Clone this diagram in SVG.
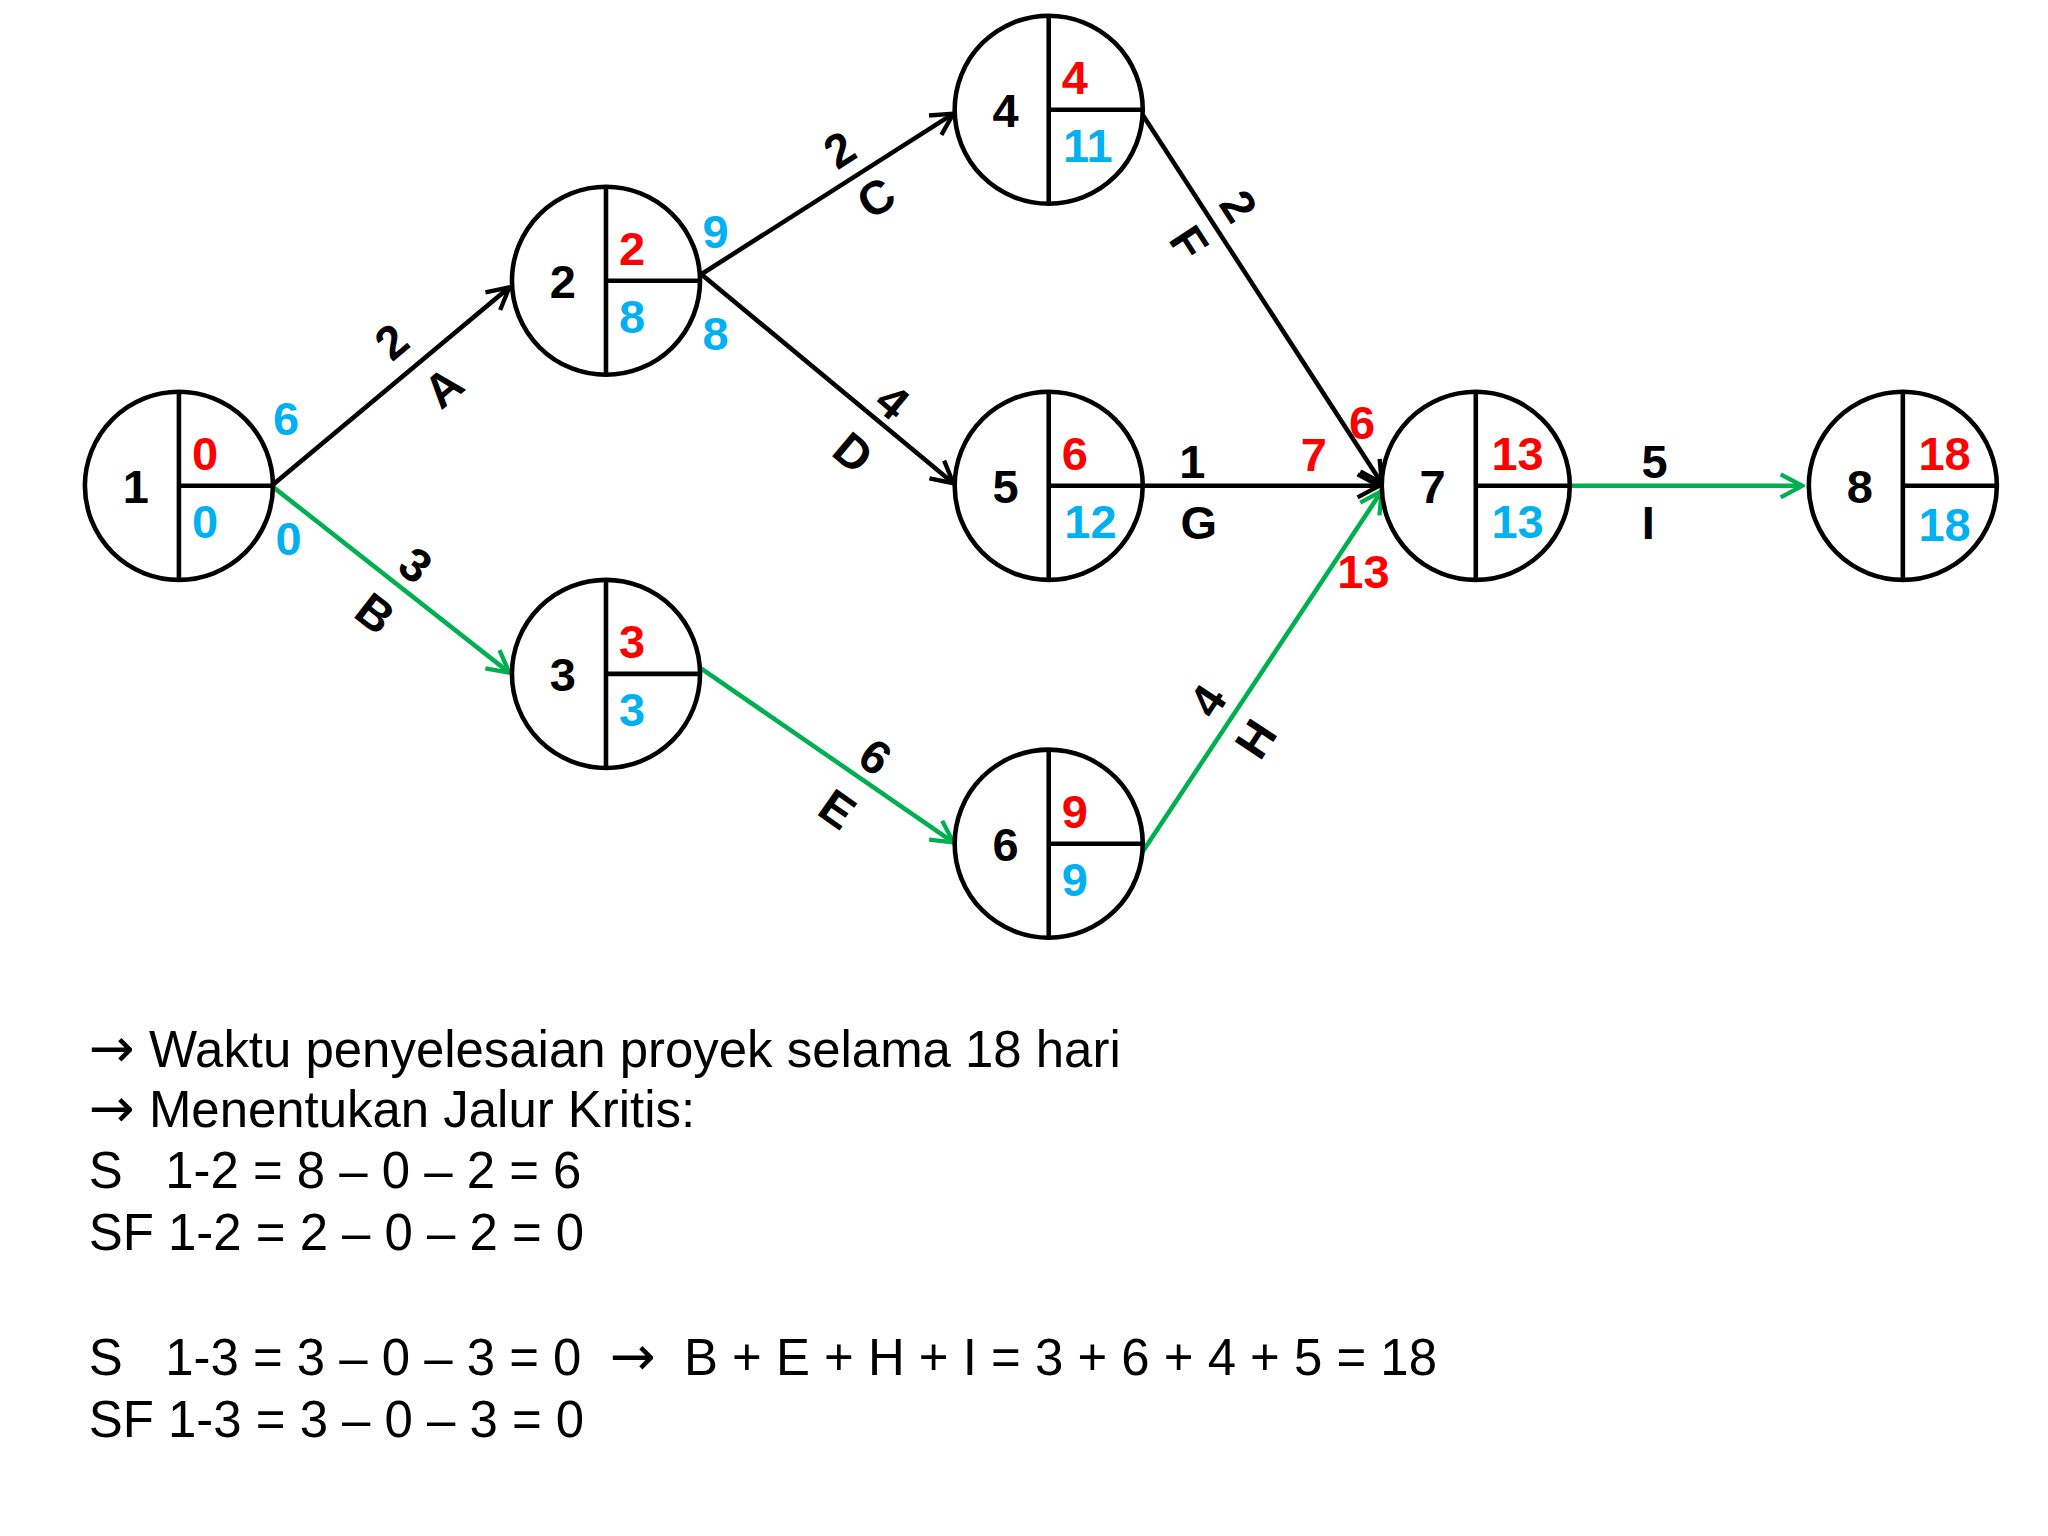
<svg xmlns="http://www.w3.org/2000/svg" width="2048" height="1536" viewBox="0 0 2048 1536">
<style>
.n{fill:#fff;stroke:#000;stroke-width:3.5}
.d{stroke:#000;stroke-width:3.5}
.t{font-family:"Liberation Sans",Arial,sans-serif;font-weight:bold;font-size:36px;text-anchor:middle}
.k{fill:#000}.r{fill:#ff0000}.c{fill:#00b0f0}
.e{fill:none;stroke-width:3.5}
.bk{stroke:#000}.gr{stroke:#00b050}
.b{font-family:"Liberation Sans",Arial,sans-serif;font-size:39px;fill:#000}
.ar{font-family:"DejaVu Sans",sans-serif;font-size:42px}
</style>
<defs>
<marker id="ak" viewBox="0 0 20 20" refX="18" refY="10" markerWidth="22" markerHeight="22" orient="auto" markerUnits="userSpaceOnUse"><path d="M3,2 L18,10 L3,18" fill="none" stroke="#000" stroke-width="3"/></marker>
<marker id="ag" viewBox="0 0 20 20" refX="18" refY="10" markerWidth="22" markerHeight="22" orient="auto" markerUnits="userSpaceOnUse"><path d="M3,2 L18,10 L3,18" fill="none" stroke="#00b050" stroke-width="3"/></marker>
</defs>
<rect width="2048" height="1536" fill="#fff"/>
<g transform="scale(1.306)">
<g id="connectors">
<line class="e bk" x1="208" y1="372" x2="390" y2="220" marker-end="url(#ak)"/>
<line class="e gr" x1="208" y1="372" x2="390" y2="515" marker-end="url(#ag)"/>
<line class="e bk" x1="537" y1="210" x2="730" y2="87" marker-end="url(#ak)"/>
<line class="e bk" x1="537" y1="210" x2="730" y2="370" marker-end="url(#ak)"/>
<line class="e gr" x1="537" y1="512" x2="730" y2="645" marker-end="url(#ag)"/>
<line class="e bk" x1="875" y1="88" x2="1058" y2="370" marker-end="url(#ak)"/>
<line class="e bk" x1="875" y1="372" x2="1056" y2="372" marker-end="url(#ak)"/>
<line class="e gr" x1="875" y1="652" x2="1058" y2="376" marker-end="url(#ag)"/>
<line class="e gr" x1="1202" y1="372" x2="1380" y2="372" marker-end="url(#ag)"/>
<g class="t k">
<text transform="translate(300,262) rotate(-40)" dy="12">2</text>
<text transform="translate(340,297) rotate(-40)" dy="12">A</text>
<text transform="translate(318,433) rotate(38)" dy="12">3</text>
<text transform="translate(287,470) rotate(38)" dy="12">B</text>
<text transform="translate(643,115) rotate(-32.5)" dy="12">2</text>
<text transform="translate(671,152) rotate(-32.5)" dy="12">C</text>
<text transform="translate(683,308) rotate(40)" dy="12">4</text>
<text transform="translate(653,347) rotate(40)" dy="12">D</text>
<text transform="translate(670,580) rotate(35)" dy="12">6</text>
<text transform="translate(641,620) rotate(35)" dy="12">E</text>
<text transform="translate(948,158) rotate(57)" dy="12">2</text>
<text transform="translate(910,186) rotate(57)" dy="12">F</text>
<text transform="translate(925,537) rotate(-56.5)" dy="12">4</text>
<text transform="translate(962,566) rotate(-56.5)" dy="12">H</text>
<text x="913" y="366">1</text><text x="918" y="413">G</text>
<text x="1267" y="366">5</text><text x="1262" y="413">I</text>
</g>
<g class="t">
<text class="c" x="219" y="333">6</text><text class="c" x="221" y="425">0</text>
<text class="c" x="548" y="190">9</text><text class="c" x="548" y="268">8</text>
<text class="r" x="1043" y="336">6</text><text class="r" x="1006" y="361">7</text><text class="r" x="1044" y="450">13</text>
</g>
</g>
<g id="n1"><circle class="n" cx="137" cy="372" r="72"/><line class="d" x1="137" y1="300" x2="137" y2="444"/><line class="d" x1="137" y1="372" x2="209" y2="372"/><text class="t k" x="104" y="385">1</text><text class="t r" x="157" y="360">0</text><text class="t c" x="157" y="412">0</text></g>
<g id="n2"><circle class="n" cx="464" cy="215" r="72"/><line class="d" x1="464" y1="143" x2="464" y2="287"/><line class="d" x1="464" y1="215" x2="536" y2="215"/><text class="t k" x="431" y="228">2</text><text class="t r" x="484" y="203">2</text><text class="t c" x="484" y="255">8</text></g>
<g id="n3"><circle class="n" cx="464" cy="516" r="72"/><line class="d" x1="464" y1="444" x2="464" y2="588"/><line class="d" x1="464" y1="516" x2="536" y2="516"/><text class="t k" x="431" y="529">3</text><text class="t r" x="484" y="504">3</text><text class="t c" x="484" y="556">3</text></g>
<g id="n4"><circle class="n" cx="803" cy="84" r="72"/><line class="d" x1="803" y1="12" x2="803" y2="156"/><line class="d" x1="803" y1="84" x2="875" y2="84"/><text class="t k" x="770" y="97">4</text><text class="t r" x="823" y="72">4</text><text class="t c" x="833" y="124">11</text></g>
<g id="n5"><circle class="n" cx="803" cy="372" r="72"/><line class="d" x1="803" y1="300" x2="803" y2="444"/><line class="d" x1="803" y1="372" x2="875" y2="372"/><text class="t k" x="770" y="385">5</text><text class="t r" x="823" y="360">6</text><text class="t c" x="835" y="412">12</text></g>
<g id="n6"><circle class="n" cx="803" cy="646" r="72"/><line class="d" x1="803" y1="574" x2="803" y2="718"/><line class="d" x1="803" y1="646" x2="875" y2="646"/><text class="t k" x="770" y="659">6</text><text class="t r" x="823" y="634">9</text><text class="t c" x="823" y="686">9</text></g>
<g id="n7"><circle class="n" cx="1130" cy="372" r="72"/><line class="d" x1="1130" y1="300" x2="1130" y2="444"/><line class="d" x1="1130" y1="372" x2="1202" y2="372"/><text class="t k" x="1097" y="385">7</text><text class="t r" x="1162" y="360">13</text><text class="t c" x="1162" y="412">13</text></g>
<g id="n8"><circle class="n" cx="1457" cy="372" r="72"/><line class="d" x1="1457" y1="300" x2="1457" y2="444"/><line class="d" x1="1457" y1="372" x2="1529" y2="372"/><text class="t k" x="1424" y="385">8</text><text class="t r" x="1489" y="360">18</text><text class="t c" x="1489" y="414">18</text></g>
<g id="notes">
<text class="b" x="68" y="817" xml:space="preserve"><tspan class="ar">→</tspan> Waktu penyelesaian proyek selama 18 hari</text>
<text class="b" x="68" y="863" xml:space="preserve"><tspan class="ar">→</tspan> Menentukan Jalur Kritis:</text>
<text class="b" x="68" y="910" xml:space="preserve">S   1-2 = 8 – 0 – 2 = 6</text>
<text class="b" x="68" y="957">SF 1-2 = 2 – 0 – 2 = 0</text>
<text class="b" x="68" y="1053" xml:space="preserve">S   1-3 = 3 – 0 – 3 = 0  <tspan class="ar">→</tspan>  B + E + H + I = 3 + 6 + 4 + 5 = 18</text>
<text class="b" x="68" y="1100">SF 1-3 = 3 – 0 – 3 = 0</text>
</g>
</g>
</svg>
